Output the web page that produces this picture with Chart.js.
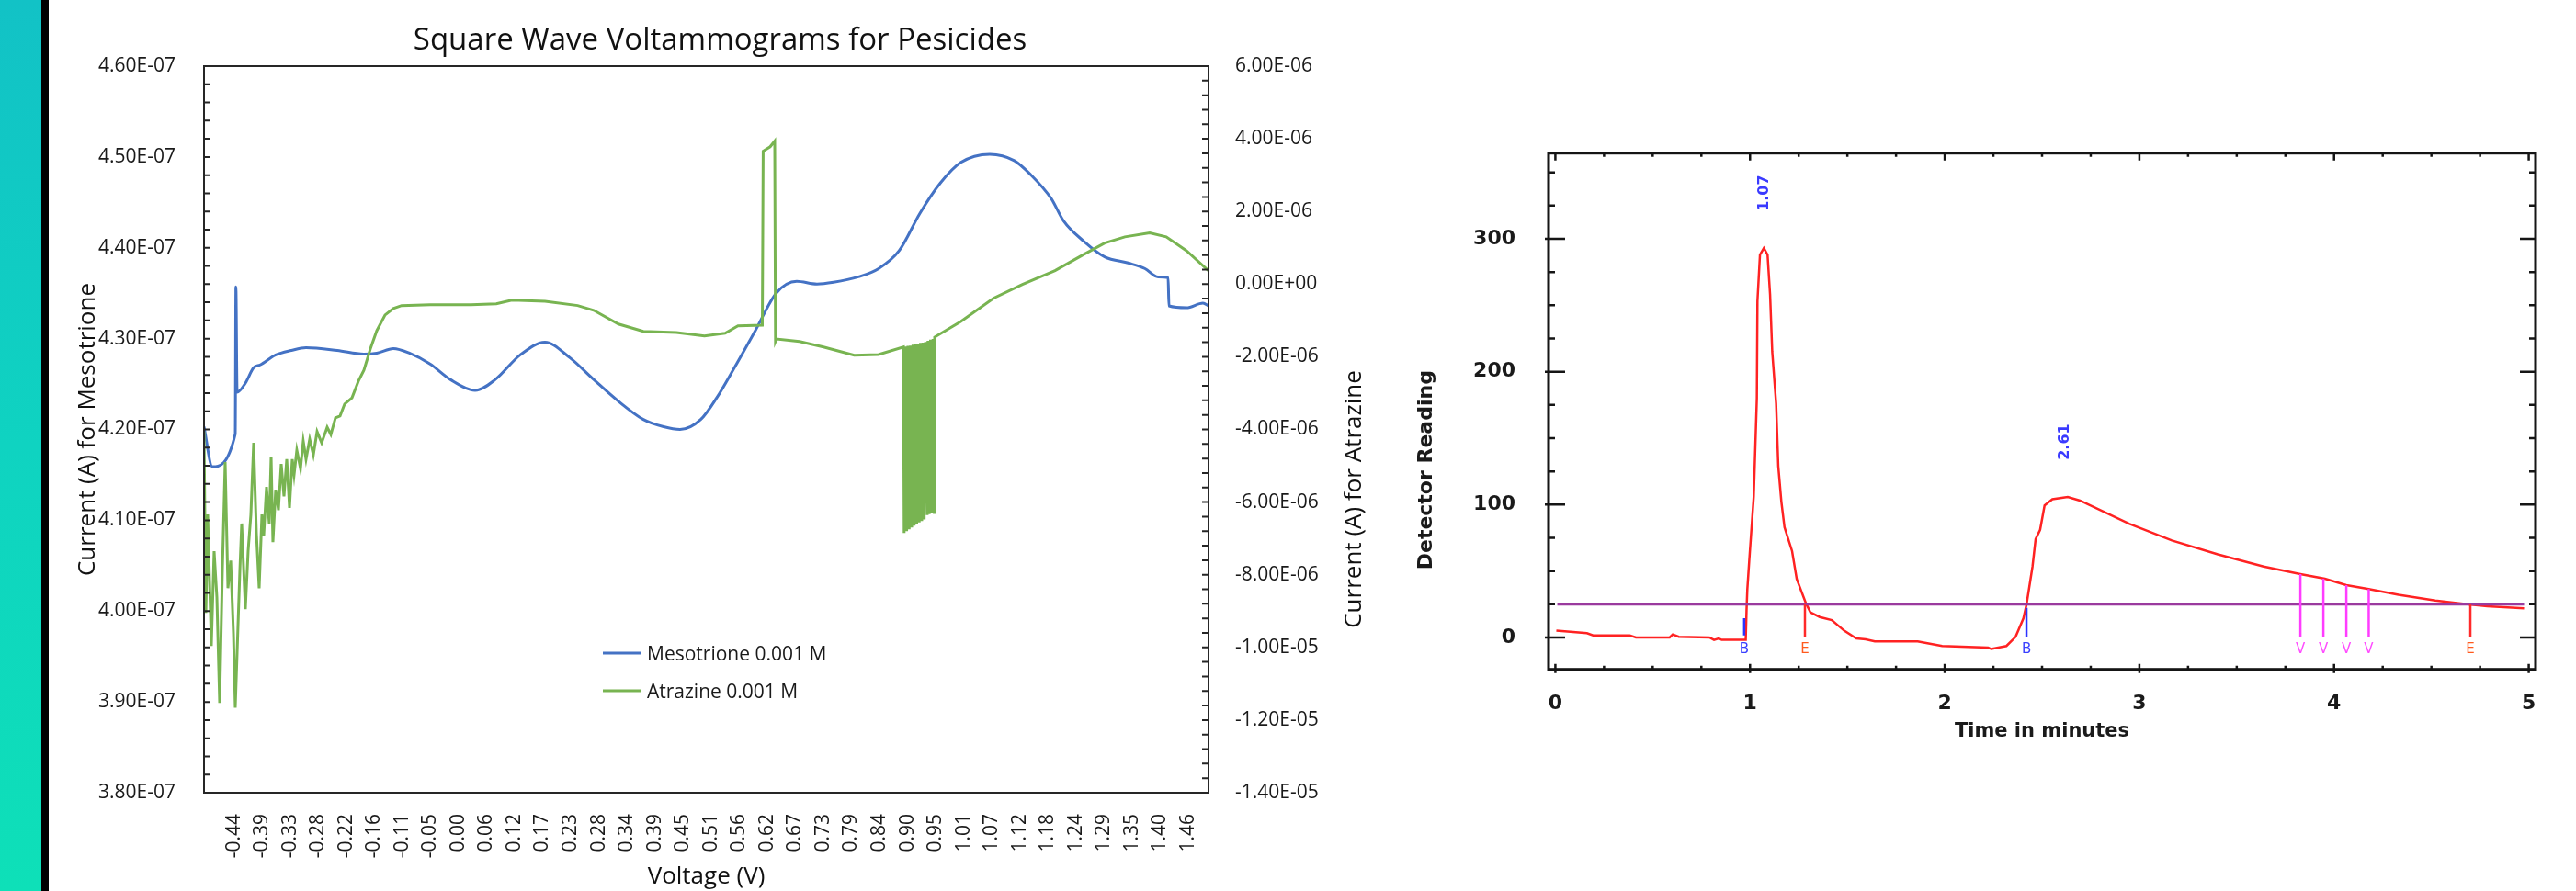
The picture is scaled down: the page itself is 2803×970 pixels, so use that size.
<!DOCTYPE html>
<html><head><meta charset="utf-8">
<script src="https://cdn.jsdelivr.net/npm/chart.js@4.4.1/dist/chart.umd.min.js"></script>
<style>
html,body{margin:0;padding:0;background:#fff;width:2803px;height:970px;overflow:hidden;}
#bar{position:absolute;left:0;top:0;width:45px;height:970px;background:linear-gradient(180deg,#12c2c6 0%,#0fd3c1 50%,#0ee0b8 100%);}
#blk{position:absolute;left:45px;top:0;width:8px;height:970px;background:#000;}
#c1{position:absolute;left:0;top:0;width:1540px;height:970px;}
#c2{position:absolute;left:1540px;top:0;width:1263px;height:970px;}
</style></head>
<body>
<canvas id="c1" width="1540" height="970"></canvas>
<canvas id="c2" width="1263" height="970"></canvas>
<div id="bar"></div><div id="blk"></div>
<script>
// ---------------- Left chart: Square Wave Voltammograms ----------------
const chartTitle = 'Square Wave Voltammograms for Pesicides';
const xAxisTitle = 'Voltage (V)';
const yLeftTitle = 'Current (A) for Mesotrione';
const yRightTitle = 'Current (A) for Atrazine';
const mesoLabel = 'Mesotrione 0.001 M';
const atraLabel = 'Atrazine 0.001 M';

const xTickLabels = ['-0.44','-0.39','-0.33','-0.28','-0.22','-0.16','-0.11','-0.05','0.00','0.06','0.12','0.17','0.23','0.28','0.34','0.39','0.45','0.51','0.56','0.62','0.67','0.73','0.79','0.84','0.90','0.95','1.01','1.07','1.12','1.18','1.24','1.29','1.35','1.40','1.46'];
const xTickFirst = -0.4405, xTickLast = 1.4597;
const xMin = -0.5, xMax = 1.5;

const yLeftTicks = [3.8e-7, 3.9e-7, 4.0e-7, 4.1e-7, 4.2e-7, 4.3e-7, 4.4e-7, 4.5e-7, 4.6e-7];
const yLeftTickLabels = ['3.80E-07','3.90E-07','4.00E-07','4.10E-07','4.20E-07','4.30E-07','4.40E-07','4.50E-07','4.60E-07'];
const yRightTicks = [-1.4e-5, -1.2e-5, -1.0e-5, -8e-6, -6e-6, -4e-6, -2e-6, 0, 2e-6, 4e-6, 6e-6];
const yRightTickLabels = ['-1.40E-05','-1.20E-05','-1.00E-05','-8.00E-06','-6.00E-06','-4.00E-06','-2.00E-06','0.00E+00','2.00E-06','4.00E-06','6.00E-06'];

const mesoVoltage = [-0.500,-0.4835,-0.4378,-0.4365,-0.4341,-0.4177,-0.4012,-0.3884,-0.3573,-0.3262,-0.2969,-0.2347,-0.1816,-0.1560,-0.1231,-0.0910,-0.0499,-0.0096,0.0398,0.0801,0.1295,0.1789,0.2283,0.2758,0.3252,0.3747,0.4149,0.4478,0.4890,0.5210,0.5540,0.5979,0.6392,0.6802,0.7205,0.7534,0.8028,0.8431,0.8844,0.9254,0.9657,1.0069,1.0645,1.1132,1.1450,1.1871,1.2109,1.2520,1.2932,1.3419,1.3737,1.3994,1.4195,1.4213,1.4561,1.4890,1.500];
const mesoCurrent = [4.203e-7,4.159e-7,4.195e-7,4.357e-7,4.241e-7,4.251e-7,4.268e-7,4.271e-7,4.282e-7,4.287e-7,4.290e-7,4.287e-7,4.283e-7,4.284e-7,4.289e-7,4.284e-7,4.272e-7,4.255e-7,4.243e-7,4.255e-7,4.282e-7,4.296e-7,4.279e-7,4.255e-7,4.231e-7,4.211e-7,4.203e-7,4.200e-7,4.211e-7,4.235e-7,4.266e-7,4.309e-7,4.350e-7,4.363e-7,4.360e-7,4.362e-7,4.368e-7,4.377e-7,4.397e-7,4.438e-7,4.471e-7,4.494e-7,4.503e-7,4.496e-7,4.481e-7,4.454e-7,4.430e-7,4.407e-7,4.390e-7,4.383e-7,4.377e-7,4.368e-7,4.367e-7,4.336e-7,4.334e-7,4.339e-7,4.336e-7];

const atraVoltage = [-0.5000,-0.4963,-0.4927,-0.4854,-0.4799,-0.4744,-0.4689,-0.4634,-0.4579,-0.4524,-0.4469,-0.4414,-0.4378,-0.4341,-0.4286,-0.4250,-0.4177,-0.4122,-0.4067,-0.4012,-0.3957,-0.3902,-0.3847,-0.3811,-0.3756,-0.3701,-0.3664,-0.3628,-0.3573,-0.3518,-0.3463,-0.3408,-0.3353,-0.3298,-0.3243,-0.3207,-0.3152,-0.3079,-0.3024,-0.2969,-0.2896,-0.2823,-0.2749,-0.2658,-0.2548,-0.2475,-0.2383,-0.2292,-0.2200,-0.2054,-0.1926,-0.1816,-0.1688,-0.1560,-0.1395,-0.1231,-0.1066,-0.0499,0.0316,0.0819,0.1130,0.1789,0.2440,0.2758,0.3252,0.3747,0.4405,0.4963,0.5375,0.5631,0.6116,0.6133,0.6272,0.6363,0.6378,0.6400,0.6857,0.7333,0.7946,0.8431,
 0.8925,0.8940,0.8965,0.8990,0.9015,0.9040,0.9065,0.9090,0.9115,0.9140,0.9165,0.9190,0.9215,0.9240,0.9265,0.9290,0.9315,0.9340,0.9365,0.9400,0.9415,0.9440,0.9465,0.9490,0.9515,0.9540,
 0.9547,1.0069,1.0718,1.1295,1.1944,1.2520,1.2932,1.3335,1.3829,1.4158,1.4561,1.5000];
const atraCurrent = [-4.06e-6,-9.05e-6,-6.34e-6,-9.96e-6,-7.35e-6,-8.62e-6,-11.53e-6,-7.86e-6,-4.90e-6,-8.37e-6,-7.61e-6,-9.63e-6,-11.66e-6,-10.14e-6,-7.86e-6,-6.59e-6,-8.95e-6,-7.35e-6,-6.34e-6,-4.37e-6,-6.85e-6,-8.37e-6,-6.34e-6,-6.92e-6,-5.58e-6,-6.59e-6,-4.75e-6,-7.10e-6,-5.66e-6,-6.22e-6,-4.95e-6,-5.84e-6,-4.82e-6,-6.16e-6,-4.82e-6,-5.25e-6,-4.57e-6,-5.08e-6,-4.32e-6,-4.82e-6,-4.27e-6,-4.70e-6,-4.06e-6,-4.37e-6,-3.94e-6,-4.14e-6,-3.68e-6,-3.63e-6,-3.30e-6,-3.13e-6,-2.67e-6,-2.37e-6,-1.78e-6,-1.28e-6,-0.85e-6,-0.67e-6,-0.59e-6,-0.57e-6,-0.57e-6,-0.54e-6,-0.44e-6,-0.47e-6,-0.59e-6,-0.72e-6,-1.10e-6,-1.30e-6,-1.33e-6,-1.43e-6,-1.35e-6,-1.15e-6,-1.13e-6,3.66e-6,3.78e-6,3.94e-6,-1.58e-6,-1.51e-6,-1.58e-6,-1.73e-6,-1.96e-6,-1.94e-6,
 -1.73e-6,-6.85e-6,-1.72e-6,-6.80e-6,-1.70e-6,-6.75e-6,-1.69e-6,-6.70e-6,-1.67e-6,-6.65e-6,-1.66e-6,-6.60e-6,-1.64e-6,-6.56e-6,-1.62e-6,-6.52e-6,-1.61e-6,-6.48e-6,-1.59e-6,-6.36e-6,-1.56e-6,-6.33e-6,-1.53e-6,-6.31e-6,-1.51e-6,-6.29e-6,
 -1.46e-6,-1.03e-6,-0.39e-6,-0.01e-6,0.37e-6,0.82e-6,1.13e-6,1.30e-6,1.41e-6,1.30e-6,0.92e-6,0.37e-6];

const mesoColor = '#4472C4';
const atraColor = '#78B451';

// ---------------- Right chart: chromatogram ----------------
const chromXTitle = 'Time in minutes';
const chromYTitle = 'Detector Reading';
const chromXTicks = [0, 1, 2, 3, 4, 5];
const chromXTickLabels = ['0','1','2','3','4','5'];
const chromYTicks = [0, 100, 200, 300];
const chromYTickLabels = ['0','100','200','300'];
const chromXMin = -0.035, chromXMax = 5.035, chromYMin = -24, chromYMax = 364.5;

const chromTime = [0.005,0.162,0.194,0.382,0.414,0.587,0.603,0.634,0.791,0.815,0.839,0.854,0.933,0.972,0.978,0.982,0.986,0.996,1.019,1.035,1.038,1.051,1.071,1.090,1.103,1.114,1.134,1.145,1.161,1.177,1.216,1.240,1.287,1.310,1.358,1.420,1.484,1.546,1.594,1.641,1.861,1.987,2.223,2.239,2.317,2.364,2.404,2.420,2.451,2.467,2.490,2.513,2.553,2.632,2.695,2.947,3.167,3.403,3.638,3.827,3.953,4.063,4.178,4.331,4.520,4.693,4.787,4.976];
const chromReading = [5.1,3.2,1.6,1.6,0,0,2.3,0.5,0,-1.8,-0.7,-1.8,-1.8,-1.8,-1.8,20,36,58,106,180,253,288,293,288,258,215,176,129,102,83,65,44,25.8,18.9,15.4,13.1,5.1,-0.7,-1.4,-3,-3,-6.4,-7.6,-8.7,-6.4,0.5,14.3,24.6,53.4,74,81,99.4,104,105.7,103,85.6,73,62.6,53.4,47.7,44.2,39.4,36.5,32.2,27.8,24.9,23.5,22];

const baselineLevel = 25, baselineStart = 0.01, baselineEnd = 4.976;
const markerTimes = [0.970, 1.282, 2.420, 3.827, 3.945, 4.063, 4.178, 4.700];
const markerLetters = ['B','E','B','V','V','V','V','E'];
const markerTops = [14.5, 25, 22.3, 47.7, 44.3, 39.4, 36.5, 24.9];
const markerBottoms = [1.5, 0.5, 0.5, 0, 0, 0, 0, 0];
const peakTimes = [1.074, 2.617];
const peakHeights = [293, 105.7];
const peakLabels = ['1.07', '2.61'];

const markerLineColor = {B:'#2c33ff', E:'#ff2a2a', V:'#ff3cff'};
const markerTextColor = {B:'#3a40ff', E:'#ff5a1e', V:'#ff4cff'};

function pts(xs, ys){ return xs.map((x,i)=>({x:x, y:ys[i]})); }

const leftDecor = {
  id:'leftDecor',
  afterDraw(chart){
    const {ctx, chartArea:a, scales} = chart;
    const yL = scales.yL, yR = scales.yR;
    ctx.save();
    ctx.strokeStyle = '#262626'; ctx.lineWidth = 2;
    ctx.strokeRect(a.left, a.top, a.right - a.left, a.bottom - a.top);
    ctx.beginPath();
    const lmin = yLeftTicks[0], lmax = yLeftTicks[yLeftTicks.length-1];
    for (let k = 0; k <= 40; k++) { const p = yL.getPixelForValue(lmin + (lmax-lmin)*k/40); ctx.moveTo(a.left, p); ctx.lineTo(a.left + 7, p); }
    const rmin = yRightTicks[0], rmax = yRightTicks[yRightTicks.length-1];
    for (let k = 0; k <= 50; k++) { const p = yR.getPixelForValue(rmin + (rmax-rmin)*k/50); ctx.moveTo(a.right - 7, p); ctx.lineTo(a.right, p); }
    ctx.stroke();
    const cx = (a.left + a.right)/2, cy = (a.top + a.bottom)/2;
    ctx.fillStyle = '#111';
    ctx.textAlign = 'center'; ctx.textBaseline = 'alphabetic';
    ctx.font = '33px "Open Sans"';
    ctx.fillText(chartTitle, cx + 15, a.top - 18);
    ctx.font = '26px "Open Sans"';
    ctx.fillText(xAxisTitle, cx, a.bottom + 99);
    ctx.save(); ctx.translate(a.left - 119, cy); ctx.rotate(-Math.PI/2); ctx.fillText(yLeftTitle, 0, 0); ctx.restore();
    ctx.save(); ctx.translate(a.right + 166, cy + 76); ctx.rotate(-Math.PI/2); ctx.fillText(yRightTitle, 0, 0); ctx.restore();
    // legend
    const ds = chart.data.datasets;
    const legendOrder = [0, 1];
    ctx.font = '21px "Open Sans"'; ctx.textAlign = 'left';
    legendOrder.forEach((di, i) => {
      const y = a.top + 639 + i*41;
      ctx.strokeStyle = ds[di].borderColor; ctx.lineWidth = 3;
      ctx.beginPath(); ctx.moveTo(a.left + 434, y); ctx.lineTo(a.left + 476, y); ctx.stroke();
      ctx.fillStyle = '#1a1a1a';
      ctx.fillText(ds[di].label, a.left + 482, y + 7.5);
    });
    ctx.restore();
  }
};

const rightDecor = {
  id:'rightDecor',
  afterDraw(chart){
    const {ctx, chartArea:a, scales} = chart;
    const X = scales.x, Y = scales.y;
    ctx.save();
    ctx.strokeStyle = '#151515'; ctx.lineWidth = 3;
    ctx.strokeRect(a.left, a.top, a.right - a.left, a.bottom - a.top);
    ctx.lineWidth = 2.5;
    ctx.beginPath();
    for (let k = 0; k <= 20; k++) {
      const v = chromXTicks[0] + (chromXTicks[chromXTicks.length-1] - chromXTicks[0]) * k / 20;
      const p = X.getPixelForValue(v); const major = (k % 4 === 0);
      ctx.moveTo(p, a.bottom + (major ? 4 : 0)); ctx.lineTo(p, a.bottom - (major ? 6 : 4));
      ctx.moveTo(p, a.top); ctx.lineTo(p, a.top + (major ? 8 : 4));
    }
    for (let k = 0; k <= 14; k++) {
      const v = chromYTicks[0] + 25 * k;
      const p = Y.getPixelForValue(v); const major = (k % 4 === 0);
      ctx.moveTo(a.left - (major ? 4 : 0), p); ctx.lineTo(a.left + (major ? 18 : 7), p);
      ctx.moveTo(a.right - (major ? 17 : 7), p); ctx.lineTo(a.right, p);
    }
    ctx.stroke();
    // marker letters
    ctx.font = '15px "DejaVu Sans"'; ctx.textAlign = 'center'; ctx.textBaseline = 'middle';
    const y0 = Y.getPixelForValue(0);
    markerTimes.forEach((t, i) => {
      ctx.fillStyle = markerTextColor[markerLetters[i]];
      ctx.fillText(markerLetters[i], X.getPixelForValue(t), y0 + 13);
    });
    // peak labels
    ctx.font = 'bold 16px "DejaVu Sans"'; ctx.fillStyle = '#3a3aff';
    peakTimes.forEach((t, i) => {
      ctx.save(); ctx.translate(X.getPixelForValue(t), Y.getPixelForValue(peakHeights[i]) - 60);
      ctx.rotate(-Math.PI/2); ctx.fillText(peakLabels[i], 0, 0); ctx.restore();
    });
    // axis titles
    ctx.fillStyle = '#1a1a1a'; ctx.textBaseline = 'alphabetic';
    ctx.font = 'bold 21px "DejaVu Sans"';
    ctx.fillText(chromXTitle, (a.left + a.right)/2, a.bottom + 73);
    ctx.font = 'bold 22px "DejaVu Sans"';
    ctx.save(); ctx.translate(a.left - 127, (a.top + a.bottom)/2 + 64); ctx.rotate(-Math.PI/2); ctx.fillText(chromYTitle, 0, 0); ctx.restore();
    ctx.restore();
  }
};

function draw(){
  const xTickValues = xTickLabels.map((_, i) => xTickFirst + i * (xTickLast - xTickFirst) / (xTickLabels.length - 1));
  const tickFont = {family:'"Open Sans"', size:21};
  new Chart(document.getElementById('c1'), {
    type:'line',
    data:{ datasets:[
      { label: mesoLabel, data: pts(mesoVoltage, mesoCurrent), yAxisID:'yL', borderColor: mesoColor, borderWidth: 3, pointRadius: 0, cubicInterpolationMode:'monotone', fill:false, order: 2 },
      { label: atraLabel, data: pts(atraVoltage, atraCurrent), yAxisID:'yR', borderColor: atraColor, borderWidth: 3, pointRadius: 0, tension: 0, fill:false, order: 1 }
    ]},
    options:{
      responsive:false, animation:false, devicePixelRatio:1,
      layout:{padding:{top:72, left:0, right:0, bottom:0}},
      plugins:{legend:{display:false}, tooltip:{enabled:false}, title:{display:false}},
      scales:{
        x:{ type:'linear', min:xMin, max:xMax,
            afterFit:(s)=>{ s.height = 107; },
            afterBuildTicks:(s)=>{ s.ticks = xTickValues.map(v=>({value:v})); },
            ticks:{ callback:(v,i)=>xTickLabels[i], autoSkip:false, minRotation:90, maxRotation:90, padding:15, font:tickFont, color:'#1a1a1a' },
            grid:{display:false}, border:{display:false} },
        yL:{ type:'linear', position:'left', min:yLeftTicks[0], max:yLeftTicks[yLeftTicks.length-1],
            afterFit:(s)=>{ s.width = 222; },
            afterBuildTicks:(s)=>{ s.ticks = yLeftTicks.map(v=>({value:v})); },
            ticks:{ callback:(v,i)=>yLeftTickLabels[i], autoSkip:false, padding:23, font:tickFont, color:'#1a1a1a' },
            grid:{display:false}, border:{display:false} },
        yR:{ type:'linear', position:'right', min:yRightTicks[0], max:yRightTicks[yRightTicks.length-1],
            afterFit:(s)=>{ s.width = 225; },
            afterBuildTicks:(s)=>{ s.ticks = yRightTicks.map(v=>({value:v})); },
            ticks:{ callback:(v,i)=>yRightTickLabels[i], autoSkip:false, padding:21, font:tickFont, color:'#1a1a1a' },
            grid:{display:false}, border:{display:false} }
      }
    },
    plugins:[leftDecor]
  });

  const markerSets = markerTimes.map((t, i) => ({
    label: markerLetters[i], data:[{x:t, y:markerTops[i]}, {x:t, y:markerBottoms[i]}],
    borderColor: markerLineColor[markerLetters[i]], borderWidth: 2.5, pointRadius: 0, fill:false, order: 0
  }));
  const rFont = {family:'"DejaVu Sans"', size:22, weight:'bold'};
  new Chart(document.getElementById('c2'), {
    type:'line',
    data:{ datasets: markerSets.concat([
      { label:'baseline', data:[{x:baselineStart, y:baselineLevel}, {x:baselineEnd, y:baselineLevel}], borderColor:'#9a3a9e', borderWidth:3, pointRadius:0, fill:false, order:1 },
      { label:'detector', data: pts(chromTime, chromReading), borderColor:'#ff2222', borderWidth:2.5, pointRadius:0, tension:0, fill:false, order:2 }
    ])},
    options:{
      responsive:false, animation:false, devicePixelRatio:1,
      layout:{padding:{top:166.7, left:0, right:44, bottom:0}},
      plugins:{legend:{display:false}, tooltip:{enabled:false}, title:{display:false}},
      scales:{
        x:{ type:'linear', min:chromXMin, max:chromXMax,
            afterFit:(s)=>{ s.height = 241.3; },
            afterBuildTicks:(s)=>{ s.ticks = chromXTicks.map(v=>({value:v})); },
            ticks:{ callback:(v,i)=>chromXTickLabels[i], autoSkip:false, maxRotation:0, padding:16, font:rFont, color:'#1a1a1a' },
            grid:{display:false}, border:{display:false} },
        y:{ type:'linear', position:'left', min:chromYMin, max:chromYMax,
            afterFit:(s)=>{ s.width = 145; },
            afterBuildTicks:(s)=>{ s.ticks = chromYTicks.map(v=>({value:v})); },
            ticks:{ callback:(v,i)=>chromYTickLabels[i], autoSkip:false, padding:28, font:rFont, color:'#1a1a1a' },
            grid:{display:false}, border:{display:false} }
      }
    },
    plugins:[rightDecor]
  });
}

const fontLoads = ['21px "Open Sans"','33px "Open Sans"','bold 21px "DejaVu Sans"','15px "DejaVu Sans"'].map(f => document.fonts.load(f));
Promise.all(fontLoads).then(draw, draw);
</script>
</body></html>
